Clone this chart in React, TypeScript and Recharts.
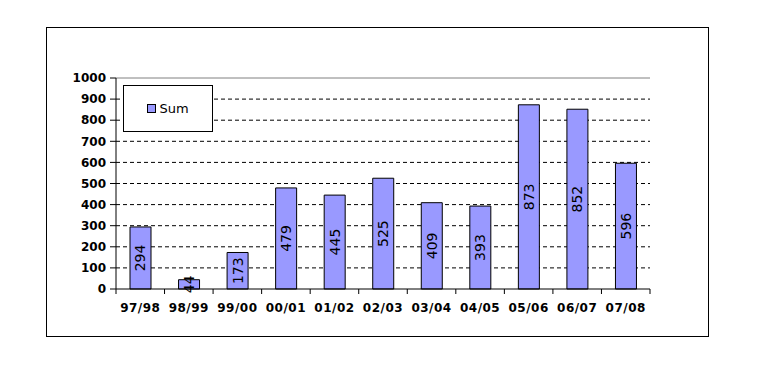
import React from 'react';
import {
  BarChart,
  Bar,
  XAxis,
  YAxis,
  CartesianGrid,
  ReferenceLine,
  LabelList,
} from 'recharts';

// Seasons and totals
const seasons = ['97/98', '98/99', '99/00', '00/01', '01/02', '02/03', '03/04', '04/05', '05/06', '06/07', '07/08'];
const sums = [294, 44, 173, 479, 445, 525, 409, 393, 873, 852, 596];
const yTicks = [0, 100, 200, 300, 400, 500, 600, 700, 800, 900, 1000];
const gridValues = [100, 200, 300, 400, 500, 600, 700, 800, 900];

const data = seasons.map((season, i) => ({ season, sum: sums[i] }));

const W = 757;
const H = 365;
const PLOT_LEFT = 116;
const PLOT_RIGHT = 650;
const PLOT_TOP = 78;
const PLOT_BOTTOM = 289;
const Y_AXIS_W = 60;
const X_AXIS_H = 30;
const STEP = (PLOT_RIGHT - PLOT_LEFT) / seasons.length;

const FONT = '"DejaVu Sans", Verdana, sans-serif';

// category label plus tick marks on the band edges
const SeasonTick = (props: any) => {
  const { x, y, payload, index } = props;
  const left = x - STEP / 2;
  return (
    <g>
      <line x1={left} y1={y} x2={left} y2={y + 5} stroke="#000" />
      {index === seasons.length - 1 && (
        <line x1={x + STEP / 2} y1={y} x2={x + STEP / 2} y2={y + 5} stroke="#000" />
      )}
      <text
        x={x}
        y={y + 23}
        textAnchor="middle"
        fontSize={12}
        fontWeight="bold"
        letterSpacing={0.5}
        fontFamily={FONT}
        fill="#000"
      >
        {payload.value}
      </text>
    </g>
  );
};

const ValueLabel = (props: any) => {
  const { x, y, width, height, value } = props;
  const cx = x + width / 2;
  const cy = y + height / 2;
  return (
    <text
      x={cx}
      y={cy}
      transform={`rotate(-90 ${cx} ${cy})`}
      textAnchor="middle"
      dominantBaseline="central"
      fontSize={14}
      fontFamily={FONT}
      fill="#000"
    >
      {value}
    </text>
  );
};

export default function App() {
  return (
    <div style={{ position: 'absolute', left: 0, top: 0, width: W, height: H, background: '#fff' }}>
      <div
        style={{
          position: 'absolute',
          left: 46,
          top: 27,
          width: 661,
          height: 308,
          border: '1px solid #000',
        }}
      />
      <div style={{ position: 'absolute', left: 0, top: 0 }}>
        <BarChart
          width={W}
          height={H}
          data={data}
          margin={{
            top: PLOT_TOP,
            right: W - PLOT_RIGHT,
            bottom: H - PLOT_BOTTOM - X_AXIS_H,
            left: PLOT_LEFT - Y_AXIS_W,
          }}
        >
          <CartesianGrid vertical={false} stroke="#000" strokeDasharray="4 3" horizontalValues={gridValues} />
          <ReferenceLine y={1000} stroke="#808080" />
          <XAxis
            dataKey="season"
            height={X_AXIS_H}
            tickLine={false}
            tickSize={0}
            tickMargin={0}
            axisLine={{ stroke: '#000' }}
            tick={<SeasonTick />}
            interval={0}
          />
          <YAxis
            width={Y_AXIS_W}
            domain={[0, 1000]}
            ticks={yTicks}
            interval={0}
            tickSize={6}
            tickMargin={4}
            axisLine={{ stroke: '#000' }}
            tickLine={{ stroke: '#000' }}
            tick={{ fill: '#000', fontSize: 12, fontWeight: 'bold', fontFamily: FONT }}
          />
          <YAxis yAxisId="right" orientation="right" width={0} tick={false} axisLine={{ stroke: '#808080' }} />
          <Bar dataKey="sum" name="Sum" fill="#9999ff" stroke="#000" barSize={21} isAnimationActive={false}>
            <LabelList dataKey="sum" content={<ValueLabel />} />
          </Bar>
        </BarChart>
      </div>
      <div
        style={{
          position: 'absolute',
          left: 123,
          top: 85,
          width: 88,
          height: 45,
          border: '1px solid #000',
          background: '#fff',
          display: 'flex',
          alignItems: 'center',
          justifyContent: 'center',
          fontFamily: FONT,
          fontSize: 13,
        }}
      >
        <span style={{ width: 7, height: 7, background: '#9999ff', border: '1px solid #000', marginRight: 3 }} />
        <span>Sum</span>
      </div>
    </div>
  );
}
